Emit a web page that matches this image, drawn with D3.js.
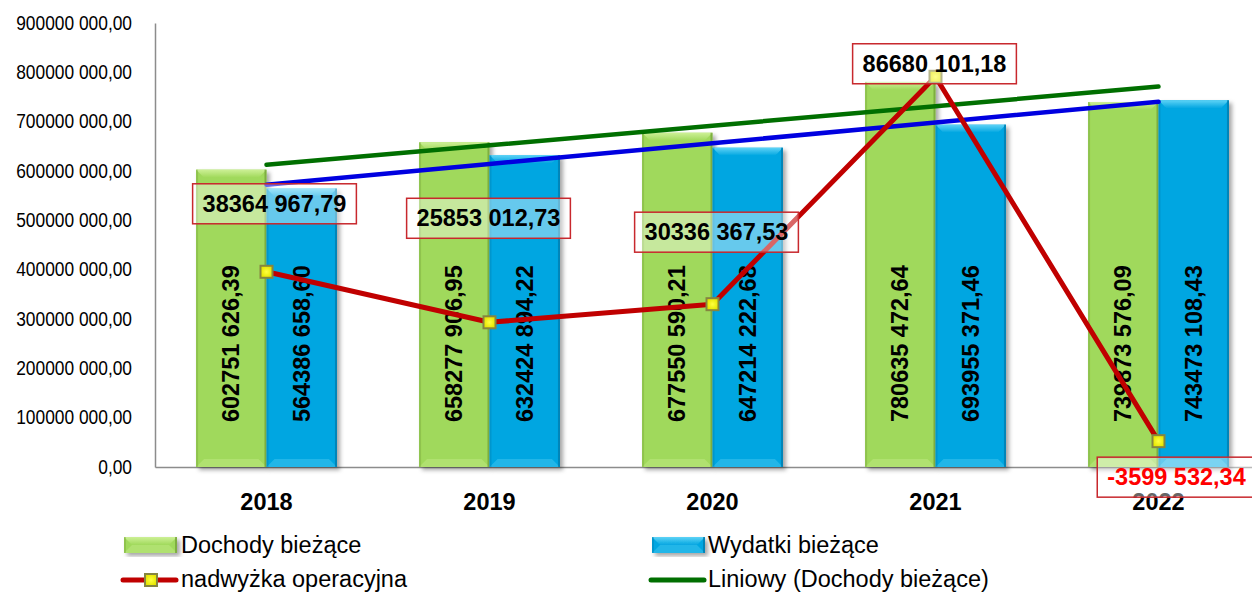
<!DOCTYPE html>
<html>
<head>
<meta charset="utf-8">
<script src="https://cdn.jsdelivr.net/npm/d3@7"></script>
<style>
    html, body { margin: 0; padding: 0; background: #ffffff; }
    svg { display: block; font-family: "Liberation Sans", Arial, sans-serif; }
</style>
</head>
<body>
<svg id="chart"></svg>
<script>
/* Dochody / wydatki bieżące 2018-2022 with operating surplus */

// Categories
const years = ['2018', '2019', '2020', '2021', '2022'];

// Series values (PLN)
const dochody = [602751626.39, 658277906.95, 677550590.21, 780635472.64, 739873576.09];
const wydatki = [564386658.60, 632424894.22, 647214222.68, 693955371.46, 743473108.43];
const nadwyzka = [38364967.79, 25853012.73, 30336367.53, 86680101.18, -3599532.34];

// Axis ticks
const yTicks = [0, 100e6, 200e6, 300e6, 400e6, 500e6, 600e6, 700e6, 800e6, 900e6];

// Hand-placed offsets of the surplus labels (px, relative to the point)
const surplusLabelShift = [[8, -68], [-1, -104], [4, -72], [-1, -13], [18, 36]];

(function() {
    'use strict';

    const width = 1252, height = 595;
    const plot = { left: 155, right: 1270, top: 23, bottom: 467 };

    const colors = {
        green: '#a0d95b', greenLight: '#cdf096', greenDark: '#6f9c36',
        blue: '#02a6e1', blueLight: '#5fd3f6', blueDark: '#0278a8',
        red: '#c00000', trendGreen: '#006f00', trendBlue: '#0000e0', axis: '#8c8c8c'
    };

    // Format like "602751 626,39"
    function fmt(v) {
        const neg = v < 0;
        const parts = Math.abs(v).toFixed(2).split('.');
        let int = parts[0];
        if (int.length > 3) int = int.slice(0, -3) + ' ' + int.slice(-3);
        return (neg ? '-' : '') + int + ',' + parts[1];
    }

    // Least squares trend over category index 1..n
    function trend(values) {
        const xs = values.map((d, i) => i + 1);
        const mx = d3.mean(xs), my = d3.mean(values);
        const slope = d3.sum(xs, (x, i) => (x - mx) * (values[i] - my)) / d3.sum(xs, x => (x - mx) * (x - mx));
        return xs.map(x => my + slope * (x - mx));
    }

    const svg = d3.select('#chart')
        .attr('width', width)
        .attr('height', height);

    const defs = svg.append('defs');

    const shadow = defs.append('filter')
        .attr('id', 'bar-shadow')
        .attr('x', '-20%').attr('y', '-10%')
        .attr('width', '150%').attr('height', '130%');
    shadow.append('feDropShadow')
        .attr('dx', 3).attr('dy', 3)
        .attr('stdDeviation', 2)
        .attr('flood-color', '#000000')
        .attr('flood-opacity', 0.35);

    function bevelGradient(id, light, base) {
        const g = defs.append('linearGradient')
            .attr('id', id)
            .attr('x1', 0).attr('y1', 0).attr('x2', 0).attr('y2', 1);
        g.append('stop').attr('offset', '0%').attr('stop-color', light);
        g.append('stop').attr('offset', '100%').attr('stop-color', base);
    }
    bevelGradient('top-green', colors.greenLight, colors.green);
    bevelGradient('top-blue', colors.blueLight, colors.blue);

    const marker = defs.append('radialGradient').attr('id', 'marker-fill');
    marker.append('stop').attr('offset', '0%').attr('stop-color', '#ffff40');
    marker.append('stop').attr('offset', '100%').attr('stop-color', '#e6e600');

    // Scales
    const x = d3.scaleBand()
        .domain(years)
        .range([plot.left, plot.right])
        .paddingInner(0.368)
        .paddingOuter(0.184);

    const xSub = d3.scaleBand()
        .domain(['dochody', 'wydatki'])
        .range([0, x.bandwidth()]);

    const y = d3.scaleLinear()
        .domain([0, 900e6])
        .range([plot.bottom, plot.top]);

    // Hidden secondary axis for the surplus line
    const y2 = d3.scaleLinear()
        .domain([-10e6, 100e6])
        .range([plot.bottom, plot.top]);

    const cx = yr => x(yr) + x.bandwidth() / 2;

    // Y axis (narrowed tick text)
    const yAxis = svg.append('g')
        .attr('transform', `translate(${plot.left}, 0)`)
        .call(d3.axisLeft(y).tickValues(yTicks).tickSize(0).tickPadding(23).tickFormat(fmt));
    yAxis.select('.domain').attr('stroke', colors.axis).attr('stroke-width', 1.5);
    yAxis.selectAll('text')
        .attr('font-family', '"Liberation Sans", Arial, sans-serif')
        .attr('font-size', '19.5px')
        .attr('fill', '#000000')
        .each(function() {
            const len = this.getComputedTextLength();
            d3.select(this)
                .attr('textLength', len * 0.89)
                .attr('lengthAdjust', 'spacingAndGlyphs');
        });

    // X axis
    const xAxis = svg.append('g')
        .attr('transform', `translate(0, ${plot.bottom})`)
        .call(d3.axisBottom(x).tickSize(0).tickPadding(26));
    xAxis.select('.domain').attr('stroke', colors.axis).attr('stroke-width', 1.5);
    xAxis.selectAll('text')
        .attr('font-family', '"Liberation Sans", Arial, sans-serif')
        .attr('font-size', '23.5px')
        .attr('font-weight', 'bold')
        .attr('fill', '#000000');

    // Bevelled bar
    function drawBar(g, bx, by, bw, bh, key) {
        const base = colors[key], light = colors[key + 'Light'], dark = colors[key + 'Dark'];
        const bar = g.append('g').attr('filter', 'url(#bar-shadow)');
        bar.append('rect')
            .attr('x', bx).attr('y', by)
            .attr('width', bw).attr('height', bh)
            .attr('fill', base);
        const b = Math.min(8, bh / 2);
        // top bevel
        bar.append('path')
            .attr('d', `M${bx},${by}L${bx + bw},${by}L${bx + bw - b},${by + b}L${bx + b},${by + b}Z`)
            .attr('fill', `url(#top-${key})`);
        // bottom bevel
        bar.append('path')
            .attr('d', `M${bx},${by + bh}L${bx + bw},${by + bh}L${bx + bw - b},${by + bh - b}L${bx + b},${by + bh - b}Z`)
            .attr('fill', light)
            .attr('opacity', 0.35);
        // side edges
        bar.append('rect')
            .attr('x', bx).attr('y', by)
            .attr('width', 2).attr('height', bh)
            .attr('fill', dark).attr('opacity', 0.35);
        bar.append('rect')
            .attr('x', bx + bw - 2).attr('y', by)
            .attr('width', 2).attr('height', bh)
            .attr('fill', dark).attr('opacity', 0.7);
    }

    const bars = svg.append('g').attr('class', 'bars');
    years.forEach((yr, i) => {
        drawBar(bars, x(yr) + xSub('dochody'), y(dochody[i]), xSub.bandwidth(), y(0) - y(dochody[i]), 'green');
        drawBar(bars, x(yr) + xSub('wydatki'), y(wydatki[i]), xSub.bandwidth(), y(0) - y(wydatki[i]), 'blue');
    });

    // Rotated value labels inside bars
    const barLabels = svg.append('g').attr('class', 'bar-labels');
    years.forEach((yr, i) => {
        [['dochody', dochody[i]], ['wydatki', wydatki[i]]].forEach(([k, v]) => {
            barLabels.append('text')
                .attr('transform', `translate(${x(yr) + xSub(k) + xSub.bandwidth() / 2}, ${y(250e6)}) rotate(-90)`)
                .attr('text-anchor', 'middle')
                .attr('dominant-baseline', 'central')
                .attr('font-size', '23.5px')
                .attr('font-weight', 'bold')
                .attr('fill', '#000000')
                .text(fmt(v));
        });
    });

    // Linear trend lines
    const trendLine = d3.line()
        .x((d, i) => cx(years[i]))
        .y(d => y(d));

    svg.append('path')
        .attr('d', trendLine(trend(wydatki)))
        .attr('fill', 'none')
        .attr('stroke', colors.trendBlue)
        .attr('stroke-width', 4.5)
        .attr('stroke-linecap', 'round');

    svg.append('path')
        .attr('d', trendLine(trend(dochody)))
        .attr('fill', 'none')
        .attr('stroke', colors.trendGreen)
        .attr('stroke-width', 4.5)
        .attr('stroke-linecap', 'round');

    // Surplus line
    const surplusLine = d3.line()
        .x((d, i) => cx(years[i]))
        .y(d => y2(d));

    svg.append('path')
        .attr('d', surplusLine(nadwyzka))
        .attr('fill', 'none')
        .attr('stroke', colors.red)
        .attr('stroke-width', 5)
        .attr('stroke-linejoin', 'round');

    function drawMarker(g, mx, my) {
        g.append('rect')
            .attr('x', mx - 6).attr('y', my - 6)
            .attr('width', 12).attr('height', 12)
            .attr('fill', 'url(#marker-fill)')
            .attr('stroke', '#858540')
            .attr('stroke-width', 2);
    }

    const markers = svg.append('g');
    nadwyzka.forEach((v, i) => drawMarker(markers, cx(years[i]), y2(v)));

    // Surplus labels in red boxes
    const boxes = svg.append('g').attr('class', 'surplus-labels');
    nadwyzka.forEach((v, i) => {
        const lx = cx(years[i]) + surplusLabelShift[i][0];
        const ly = y2(v) + surplusLabelShift[i][1];
        const g = boxes.append('g');
        const rect = g.append('rect');
        const t = g.append('text')
            .attr('x', lx).attr('y', ly)
            .attr('text-anchor', 'middle')
            .attr('dominant-baseline', 'central')
            .attr('font-size', '23.5px')
            .attr('font-weight', 'bold')
            .attr('fill', v < 0 ? '#ff0000' : '#000000')
            .text(fmt(v));
        const w = t.node().getComputedTextLength() + 20;
        rect.attr('x', lx - w / 2).attr('y', ly - 20)
            .attr('width', w).attr('height', 40)
            .attr('fill', '#ffffff').attr('fill-opacity', 0.4)
            .attr('stroke', '#c8282d').attr('stroke-width', 1.5);
    });

    // Legend
    const legend = svg.append('g').attr('class', 'legend')
        .attr('font-size', '23.5px')
        .attr('fill', '#000000');

    function swatch(lx, ly, key) {
        const g = legend.append('g');
        drawBar(g, lx, ly - 8, 53, 16, key);
    }
    function lineSwatch(lx, ly, color, withMarker) {
        legend.append('line')
            .attr('x1', lx).attr('x2', lx + 53)
            .attr('y1', ly).attr('y2', ly)
            .attr('stroke', color).attr('stroke-width', 5)
            .attr('stroke-linecap', 'round');
        if (withMarker) drawMarker(legend, lx + 28, ly);
    }
    function label(lx, ly, text) {
        legend.append('text')
            .attr('x', lx).attr('y', ly)
            .attr('dominant-baseline', 'central')
            .text(text);
    }

    swatch(124, 545, 'green');
    label(181, 545, 'Dochody bieżące');
    swatch(652, 545, 'blue');
    label(708, 545, 'Wydatki bieżące');
    lineSwatch(123, 580, colors.red, true);
    label(181, 579, 'nadwyżka operacyjna');
    lineSwatch(651, 580, colors.trendGreen, false);
    label(708, 579, 'Liniowy (Dochody bieżące)');
})();
</script>
</body>
</html>
